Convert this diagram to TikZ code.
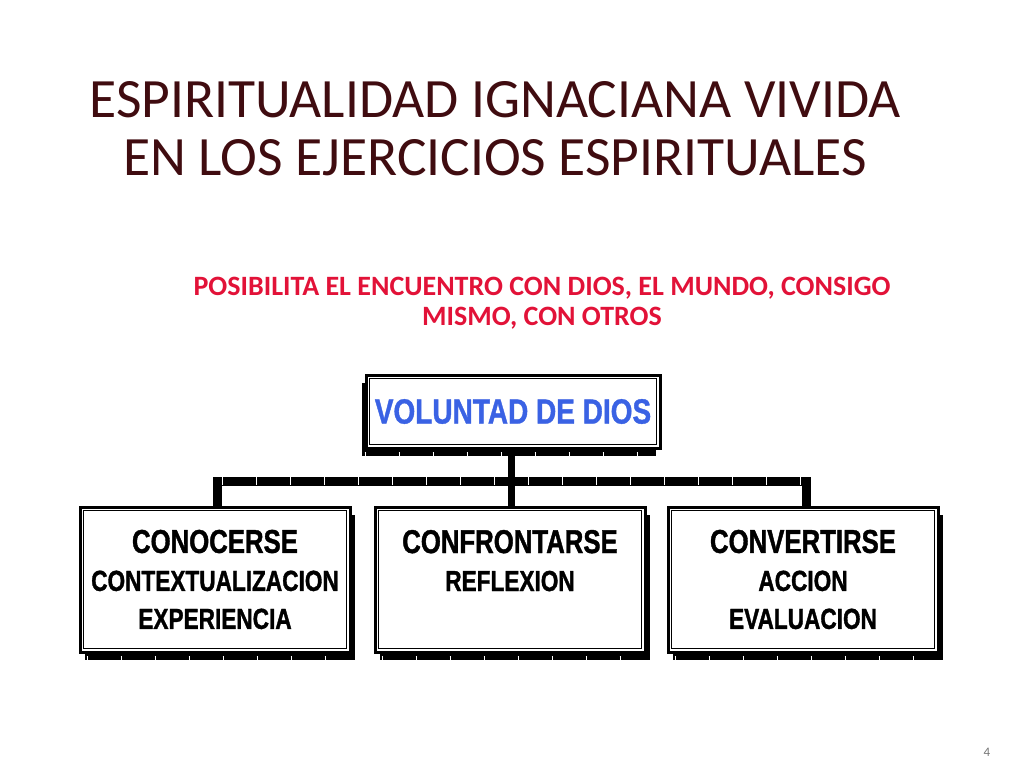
\documentclass[tikz,border=0pt]{standalone}
\usepackage{fontspec}
\usetikzlibrary{shadows}
\setmainfont{Carlito}
\newfontfamily\boxfont[FakeStretch=0.78, FakeBold=1.2]{Liberation Sans}
\newfontfamily\volfont[FakeStretch=0.8, FakeBold=1]{Liberation Sans}
\definecolor{titlered}{RGB}{64,12,16}
\definecolor{subred}{RGB}{226,18,56}
\definecolor{volblue}{RGB}{58,98,228}

\tikzset{
  bigbox/.style={draw, line width=3pt, fill=white, inner sep=0pt, align=center,
    minimum width=270pt, minimum height=145pt,
    font=\boxfont\bfseries\fontsize{29}{38}\selectfont,
    drop shadow={shadow xshift=5pt, shadow yshift=-8pt, fill=black, opacity=1}},
  topbox/.style={draw, line width=3pt, fill=white, inner sep=0pt,
    minimum width=294pt, minimum height=73pt, text=volblue,
    font=\volfont\bfseries\fontsize{35}{40}\selectfont,
    drop shadow={shadow xshift=-4pt, shadow yshift=-8pt, fill=black, opacity=1}},
  innerline/.style={line width=1.5pt},
  busline/.style={line width=9pt},
  ticks/.style={white, line width=6pt, dash pattern=on 1pt off 33pt}
}

\begin{document}
\begin{tikzpicture}[x=1pt,y=-1pt]
\useasboundingbox (0,0) rectangle (1024,768);

\node [anchor=base, text=titlered, font=\fontsize{55.5}{58}\selectfont] (title1) at (495,117) {ESPIRITUALIDAD IGNACIANA VIVIDA};
\node [anchor=base, text=titlered, font=\fontsize{55.5}{58}\selectfont] (title2) at (495,175) {EN LOS EJERCICIOS ESPIRITUALES};

\node [anchor=base, text=subred, font=\bfseries\fontsize{28}{31}\selectfont] (sub1) at (542,295) {POSIBILITA EL ENCUENTRO CON DIOS, EL MUNDO, CONSIGO};
\node [anchor=base, text=subred, font=\bfseries\fontsize{28}{31}\selectfont] (sub2) at (542,325) {MISMO, CON OTROS};

\coordinate (hub) at (511,481);

% connectors
\draw[line width=7pt] (511,440) -- (hub);
\draw[busline] (217,510) |- (hub) -| (806,510);
\draw[line width=7pt] (hub) -- (511,510);
\draw[ticks, line width=8pt] (222,481) -- (810,481);

\node [topbox] (voluntad) at (513,411.5) {VOLUNTAD DE DIOS};

\node [bigbox] (conocerse) at (215,579.5) {{\fontsize{33}{38}\selectfont CONOCERSE}\\CONTEXTUALIZACION\\EXPERIENCIA};
\node [bigbox] (confrontarse) at (510,579.5) {{\fontsize{33}{38}\selectfont CONFRONTARSE}\\REFLEXION\\\phantom{X}};
\node [bigbox] (convertirse) at (803,579.5) {{\fontsize{33}{38}\selectfont CONVERTIRSE}\\ACCION\\EVALUACION};

\draw[innerline] ([shift={(5,5)}]voluntad.north west) rectangle ([shift={(-5,-5)}]voluntad.south east);
\draw[innerline] ([shift={(5,5)}]conocerse.north west) rectangle ([shift={(-5,-5)}]conocerse.south east);
\draw[innerline] ([shift={(5,5)}]confrontarse.north west) rectangle ([shift={(-5,-5)}]confrontarse.south east);
\draw[innerline] ([shift={(5,5)}]convertirse.north west) rectangle ([shift={(-5,-5)}]convertirse.south east);

\draw[ticks] ([shift={(0,5)}]voluntad.south west) -- ([shift={(-4,5)}]voluntad.south east);
\draw[ticks] ([shift={(8,5)}]conocerse.south west) -- ([shift={(5,5)}]conocerse.south east);
\draw[ticks] ([shift={(8,5)}]confrontarse.south west) -- ([shift={(5,5)}]confrontarse.south east);
\draw[ticks] ([shift={(8,5)}]convertirse.south west) -- ([shift={(5,5)}]convertirse.south east);

\node [anchor=base, text=black!55, font=\fontsize{13}{15}\selectfont] (pagenum) at (987,756) {4};
\end{tikzpicture}
\end{document}
